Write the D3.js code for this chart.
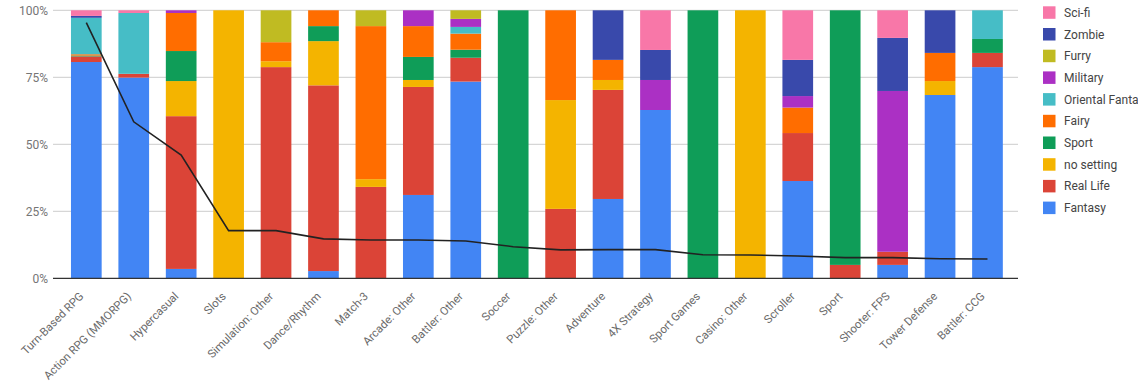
<!DOCTYPE html>
<html>
<head>
<meta charset="utf-8">
<script src="https://cdn.jsdelivr.net/npm/d3@7"></script>
<style>
  html, body { margin: 0; padding: 0; background: #fff; }
  svg { display: block; font-family: Roboto, Arial, sans-serif; }
</style>
</head>
<body>
<svg id="chart" width="1138" height="392"></svg>
<script>
const categories = ["Turn-Based RPG", "Action RPG (MMORPG)", "Hypercasual", "Slots", "Simulation: Other",
  "Dance/Rhythm", "Match-3", "Arcade: Other", "Battler: Other", "Soccer", "Puzzle: Other", "Adventure",
  "4X Strategy", "Sport Games", "Casino: Other", "Scroller", "Sport", "Shooter: FPS", "Tower Defense", "Battler: CCG"];

// stacked series, bottom to top
const seriesNames = ["Fantasy", "Real Life", "no setting", "Sport", "Fairy", "Oriental Fantasy", "Military", "Furry", "Zombie", "Sci-fi"];
const seriesColors = ["#4285F4", "#DB4437", "#F4B400", "#0F9D58", "#FF6D00", "#46BDC6", "#AB30C4", "#C0BB22", "#3949AB", "#F877A8"];

const fantasy    = [0.807, 0.749, 0.035, 0, 0, 0.027, 0, 0.311, 0.734, 0, 0, 0.296, 0.628, 0, 0, 0.363, 0, 0.050, 0.684, 0.788];
const realLife   = [0.021, 0.014, 0.570, 0, 0.788, 0.693, 0.341, 0.403, 0.089, 0, 0.259, 0.407, 0, 0, 0, 0.179, 0.050, 0.049, 0, 0.053];
const noSetting  = [0, 0, 0.131, 1.0, 0.022, 0.165, 0.029, 0.026, 0, 0, 0.406, 0.037, 0, 0, 1.0, 0, 0, 0, 0.052, 0];
const sport      = [0.003, 0, 0.112, 0, 0, 0.056, 0, 0.086, 0.030, 1.0, 0, 0, 0, 1.0, 0, 0, 0.950, 0, 0, 0.052];
const fairy      = [0.005, 0, 0.142, 0, 0.071, 0.059, 0.571, 0.115, 0.060, 0, 0.335, 0.075, 0, 0, 0, 0.095, 0, 0, 0.105, 0];
const oriental   = [0.136, 0.227, 0, 0, 0, 0, 0, 0, 0.025, 0, 0, 0, 0, 0, 0, 0, 0, 0, 0, 0.107];
const military   = [0, 0, 0.010, 0, 0, 0, 0, 0.059, 0.030, 0, 0, 0, 0.112, 0, 0, 0.043, 0, 0.600, 0, 0];
const furry      = [0, 0, 0, 0, 0.119, 0, 0.059, 0, 0.032, 0, 0, 0, 0, 0, 0, 0, 0, 0, 0, 0];
const zombie     = [0.007, 0, 0, 0, 0, 0, 0, 0, 0, 0, 0, 0.185, 0.112, 0, 0, 0.135, 0, 0.198, 0.159, 0];
const sciFi      = [0.021, 0.010, 0, 0, 0, 0, 0, 0, 0, 0, 0, 0, 0.148, 0, 0, 0.185, 0, 0.103, 0, 0];

// overlay line series
const lineValues = [0.954, 0.584, 0.460, 0.178, 0.178, 0.147, 0.143, 0.143, 0.139, 0.118, 0.106, 0.107,
  0.107, 0.088, 0.087, 0.083, 0.077, 0.077, 0.073, 0.072];

const yTicks = [0, 0.25, 0.5, 0.75, 1];

const seriesValues = [fantasy, realLife, noSetting, sport, fairy, oriental, military, furry, zombie, sciFi];

const rows = categories.map((c, i) => {
  const r = { cat: c };
  seriesNames.forEach((s, j) => { r[s] = seriesValues[j][i]; });
  return r;
});

const svg = d3.select("#chart");
const gridLeft = 53, gridRight = 1018;

const x = d3.scaleBand().domain(categories).range([62.6, 1011.2]).paddingInner(0.353).paddingOuter(0.1765);
const y = d3.scaleLinear().domain([0, 1]).range([278.3, 10.3]);

// gridlines
svg.append("g").selectAll("line").data(yTicks.filter(t => t > 0)).join("line")
  .attr("x1", gridLeft).attr("x2", gridRight)
  .attr("y1", d => y(d)).attr("y2", d => y(d))
  .attr("stroke", "#cccccc").attr("stroke-width", 1);

// y labels
svg.append("g").selectAll("text").data(yTicks).join("text")
  .attr("x", 48).attr("y", d => y(d) + 4.5)
  .attr("text-anchor", "end")
  .attr("font-size", 12).attr("fill", "#757575")
  .text(d3.format(".0%"));

// stacked bars
const stack = d3.stack().keys(seriesNames)(rows);
svg.append("g").selectAll("g").data(stack).join("g")
  .attr("fill", (d, i) => seriesColors[i])
  .selectAll("rect").data(d => d).join("rect")
  .attr("x", d => x(d.data.cat))
  .attr("width", x.bandwidth())
  .attr("y", d => y(d[1]))
  .attr("height", d => Math.max(0, y(d[0]) - y(d[1])));

// baseline axis
svg.append("line")
  .attr("x1", gridLeft).attr("x2", gridRight)
  .attr("y1", y(0)).attr("y2", y(0))
  .attr("stroke", "#333").attr("stroke-width", 1.3);

// overlay line
const line = d3.line()
  .x((d, i) => x(categories[i]) + x.bandwidth() / 2)
  .y(d => y(d));
svg.append("path").datum(lineValues)
  .attr("d", line)
  .attr("fill", "none").attr("stroke", "#222").attr("stroke-width", 1.6);

// x labels
svg.append("g").selectAll("text").data(categories).join("text")
  .attr("transform", d => `translate(${x(d) + x.bandwidth() / 2 - 2},${297}) rotate(-45)`)
  .attr("text-anchor", "end")
  .attr("font-size", 11.4).attr("fill", "#6a6a6a")
  .text(d => d);

// legend (top to bottom reversed)
const legendItems = seriesNames.map((s, i) => ({ name: s, color: seriesColors[i] })).reverse();
const lg = svg.append("g").selectAll("g").data(legendItems).join("g")
  .attr("transform", (d, i) => `translate(1043,${12.3 + i * 21.7})`);
lg.append("rect").attr("x", 0).attr("y", -6).attr("width", 12.5).attr("height", 12.5)
  .attr("fill", d => d.color);
lg.append("text").attr("x", 21).attr("y", 4.5)
  .attr("font-size", 12).attr("fill", "#444")
  .text(d => d.name);
</script>
</body>
</html>
